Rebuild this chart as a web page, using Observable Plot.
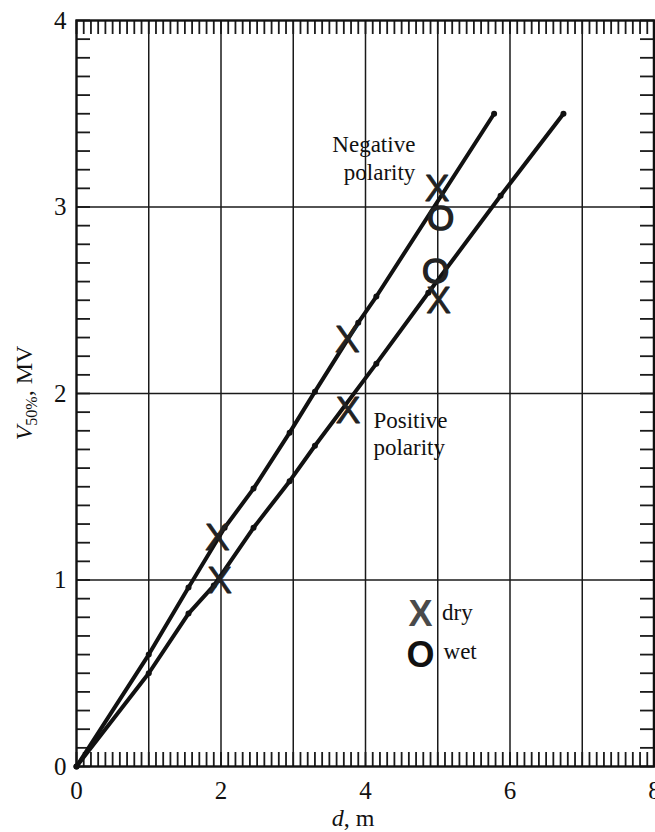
<!DOCTYPE html>
<html>
<head>
<meta charset="utf-8">
<script src="https://cdn.jsdelivr.net/npm/d3@7"></script>
<script src="https://cdn.jsdelivr.net/npm/@observablehq/plot@0.6"></script>
<style>
  html, body { margin: 0; padding: 0; background: #fff; }
  #chart svg { display: block; }
</style>
</head>
<body>
<div id="chart"></div>
<script>
// Breakdown voltage V50% versus gap distance d, both polarities
const negX = [0, 1, 1.55, 2.05, 2.45, 2.95, 3.3, 3.9, 4.15, 5.78];
const negV = [0, 0.6, 0.96, 1.28, 1.49, 1.79, 2.01, 2.38, 2.52, 3.5];
const posX = [0, 1, 1.55, 1.9, 2.45, 2.95, 3.3, 4.15, 4.87, 5.87, 6.74];
const posV = [0, 0.5, 0.82, 0.97, 1.28, 1.53, 1.72, 2.16, 2.54, 3.06, 3.5];

// Measured test points (dry and wet)
const dryX = [1.95, 3.75, 4.99, 1.98, 3.76, 5.01];
const dryV = [1.23, 2.29, 3.10, 1.0, 1.91, 2.50];
const wetX = [5.04, 4.97];
const wetV = [2.94, 2.66];

// Axis ticks
const xTickLabels = [0, 2, 4, 6, 8];
const yTickLabels = [0, 1, 2, 3, 4];
const xGrid = [1, 2, 3, 4, 5, 6, 7];
const yGrid = [1, 2, 3];

const W = 655, H = 832;
const mL = 76, mR = 1, mT = 20, mB = 66;
const pxPerY = (H - mT - mB) / 4;
const pxPerX = (W - mL - mR) / 8;
const tickLen = 14;

const minorX = d3.range(0, 81).map(i => i / 10);
const minorY = d3.range(0, 41).map(i => i / 10);

const negLine = negX.map((x, i) => ({x, y: negV[i]}));
const posLine = posX.map((x, i) => ({x, y: posV[i]}));
const dry = dryX.map((x, i) => ({x, y: dryV[i]}));
const wet = wetX.map((x, i) => ({x, y: wetV[i]}));

const serif = "Liberation Serif";
const sans = "Liberation Sans";

const svg = Plot.plot({
  width: W,
  height: H,
  marginLeft: mL,
  marginRight: mR,
  marginTop: mT,
  marginBottom: mB,
  style: {fontFamily: serif, fontSize: "25px", color: "#111", background: "#fff"},
  x: {domain: [0, 8]},
  y: {domain: [0, 4]},
  marks: [
    // grid
    Plot.ruleX(xGrid, {stroke: "#1a1a1a", strokeWidth: 1.5}),
    Plot.ruleY(yGrid, {stroke: "#1a1a1a", strokeWidth: 1.5}),
    // inward minor ticks on all four sides
    Plot.ruleX(minorX, {y1: 0, y2: tickLen / pxPerY, stroke: "#1a1a1a", strokeWidth: 1.8}),
    Plot.ruleX(minorX, {y1: 4 - tickLen / pxPerY, y2: 4, stroke: "#1a1a1a", strokeWidth: 1.8}),
    Plot.ruleY(minorY, {x1: 0, x2: tickLen / pxPerX, stroke: "#1a1a1a", strokeWidth: 1.8}),
    Plot.ruleY(minorY, {x1: 8 - tickLen / pxPerX, x2: 8, stroke: "#1a1a1a", strokeWidth: 1.8}),
    Plot.frame({stroke: "#111", strokeWidth: 2.4}),
    Plot.ruleX([8], {stroke: "#111", strokeWidth: 3.5}),
    // tick labels
    Plot.axisX({ticks: xTickLabels, tickSize: 0, tickPadding: 15, tickFormat: d3.format("d"), label: null, fontSize: 25}),
    Plot.axisY({ticks: yTickLabels, tickSize: 0, tickPadding: 10, tickFormat: d3.format("d"), label: null, fontSize: 25}),
    // polarity curves
    Plot.line(negLine, {x: "x", y: "y", stroke: "#111", strokeWidth: 4, strokeLinecap: "round"}),
    Plot.line(posLine, {x: "x", y: "y", stroke: "#111", strokeWidth: 4, strokeLinecap: "round"}),
    Plot.dot(negLine, {x: "x", y: "y", r: 3, fill: "#111"}),
    Plot.dot(posLine, {x: "x", y: "y", r: 3, fill: "#111"}),
    // test points
    Plot.text(dry, {x: "x", y: "y", text: () => "X", fontFamily: sans, fontSize: 37, fill: "#222", stroke: "#222", strokeWidth: 0.8, lineAnchor: "middle", dy: 1}),
    Plot.text(wet, {x: "x", y: "y", text: () => "O", fontFamily: sans, fontSize: 35, fill: "#222", stroke: "#222", strokeWidth: 1.4, lineAnchor: "middle", dy: 1}),
    // curve annotations
    Plot.text(["Negative\npolarity"], {x: 4.69, y: 3.147, textAnchor: "end", lineAnchor: "bottom", lineHeight: 1.2, fontSize: 23, fill: "#111"}),
    Plot.text(["Positive\npolarity"], {x: 4.11, y: 1.668, textAnchor: "start", lineAnchor: "bottom", lineHeight: 1.2, fontSize: 23, fill: "#111"}),
    // legend
    Plot.text(["X"], {x: 4.76, y: 0.823, fontFamily: sans, fontWeight: "bold", fontSize: 36, fill: "#4a4a4a", lineAnchor: "middle", dy: 1}),
    Plot.text(["O"], {x: 4.76, y: 0.601, fontFamily: sans, fontWeight: "bold", fontSize: 36, fill: "#111", lineAnchor: "middle", dy: 1}),
    Plot.text(["dry"], {x: 5.06, y: 0.783, textAnchor: "start", lineAnchor: "bottom", fontSize: 23, fill: "#111"}),
    Plot.text(["wet"], {x: 5.08, y: 0.579, textAnchor: "start", lineAnchor: "bottom", fontSize: 23, fill: "#111"})
  ]
});

// axis titles with italic symbols and subscript
const s = d3.select(svg);
const xl = s.append("text")
  .attr("x", mL + (W - mL - mR) / 2 - 12)
  .attr("y", 826)
  .attr("text-anchor", "middle")
  .attr("font-family", serif)
  .attr("font-size", 24)
  .attr("fill", "#111");
xl.append("tspan").attr("font-style", "italic").text("d");
xl.append("tspan").text(", m");

const yl = s.append("text")
  .attr("transform", `translate(32,${mT + (H - mT - mB) / 2}) rotate(-90)`)
  .attr("text-anchor", "middle")
  .attr("font-family", serif)
  .attr("font-size", 24)
  .attr("fill", "#111");
yl.append("tspan").attr("font-style", "italic").text("V");
yl.append("tspan").attr("font-size", 16).attr("dy", 5).text("50%");
yl.append("tspan").attr("dy", -5).text(", MV");

document.getElementById("chart").appendChild(svg);
</script>
</body>
</html>
